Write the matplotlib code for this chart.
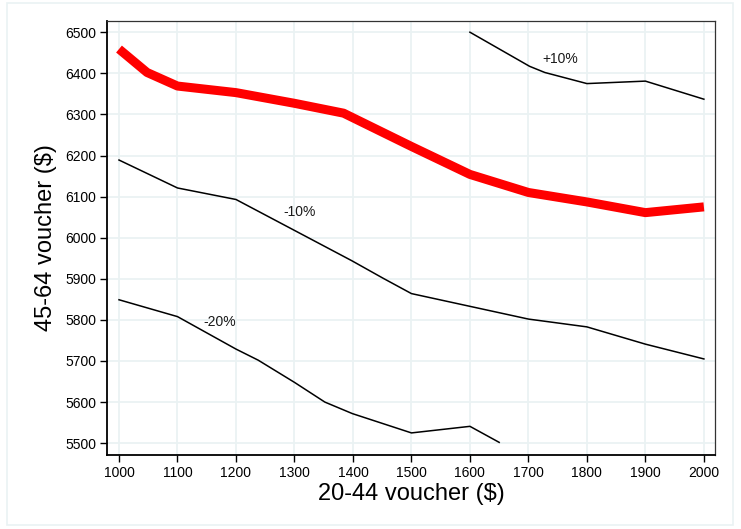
import numpy as np
import matplotlib.pyplot as plt
from matplotlib.patches import Rectangle

plt.rcParams['font.family'] = ['Liberation Sans', 'DejaVu Sans']

# 20-44 voucher values ($) and matching 45-64 voucher values ($)
base_x = [1000, 1048, 1100, 1200, 1300, 1384, 1500, 1600, 1700, 1800, 1900, 2000]
base_y = [6459, 6402, 6369, 6353, 6327, 6303, 6222, 6154, 6110, 6087, 6061, 6075]

plus10_x = [1600, 1702, 1728, 1800, 1900, 2000]
plus10_y = [6500, 6417, 6402, 6375, 6381, 6337]

minus10_x = [1000, 1100, 1200, 1398, 1452, 1500, 1600, 1700, 1800, 1900, 2000]
minus10_y = [6189, 6121, 6093, 5944, 5901, 5864, 5833, 5802, 5783, 5741, 5705]

minus20_x = [1000, 1100, 1200, 1238, 1300, 1352, 1399, 1500, 1600, 1650]
minus20_y = [5849, 5808, 5729, 5702, 5648, 5600, 5572, 5525, 5541, 5502]

curve_labels = ['+10%', '-10%', '-20%']
label_x = [1754, 1308, 1173]
label_y = [6434, 6062, 5794]

xticks = list(range(1000, 2001, 100))
yticks = list(range(5500, 6501, 100))

fig = plt.figure(figsize=(7.41, 5.29), dpi=100)
fig.patch.set_facecolor('white')
fig.patches.append(Rectangle((7.3 / 741, 1 - 525 / 529), (733 - 7.3) / 741, (525 - 2.7) / 529,
                             transform=fig.transFigure, fill=False,
                             edgecolor='#eaf2f3', lw=1.2))

ax = fig.add_axes([107.3 / 741, 1 - 454.7 / 529, (715.3 - 107.3) / 741, (454.7 - 20.7) / 529])

ax.plot(minus10_x, minus10_y, color='black', lw=1.1, zorder=3)
ax.plot(minus20_x, minus20_y, color='black', lw=1.1, zorder=3)
ax.plot(plus10_x, plus10_y, color='black', lw=1.1, zorder=3)
ax.plot(base_x, base_y, color='#ff0000', lw=6.5, zorder=4, solid_capstyle='butt')

for t, lx, ly in zip(curve_labels, label_x, label_y):
    ax.text(lx, ly, t, fontsize=10, ha='center', va='center', color='#1a1a1a')

ax.set_xlim(980, 2019.5)
ax.set_ylim(5472, 6528)
ax.set_xticks(xticks)
ax.set_yticks(yticks)
ax.grid(True, color='#eaf2f3', lw=1.3)
ax.set_axisbelow(True)

ax.tick_params(direction='out', length=5, width=1, labelsize=10, colors='black', pad=3)
for s in ['left', 'bottom']:
    ax.spines[s].set_linewidth(1.3)
    ax.spines[s].set_color('black')
for s in ['top', 'right']:
    ax.spines[s].set_linewidth(0.9)
    ax.spines[s].set_color('#333333')

ax.set_xlabel('20-44 voucher ($)', fontsize=17, labelpad=2)
ax.set_ylabel('45-64 voucher ($)', fontsize=17, labelpad=6)

fig.savefig('out.png', dpi=100)
